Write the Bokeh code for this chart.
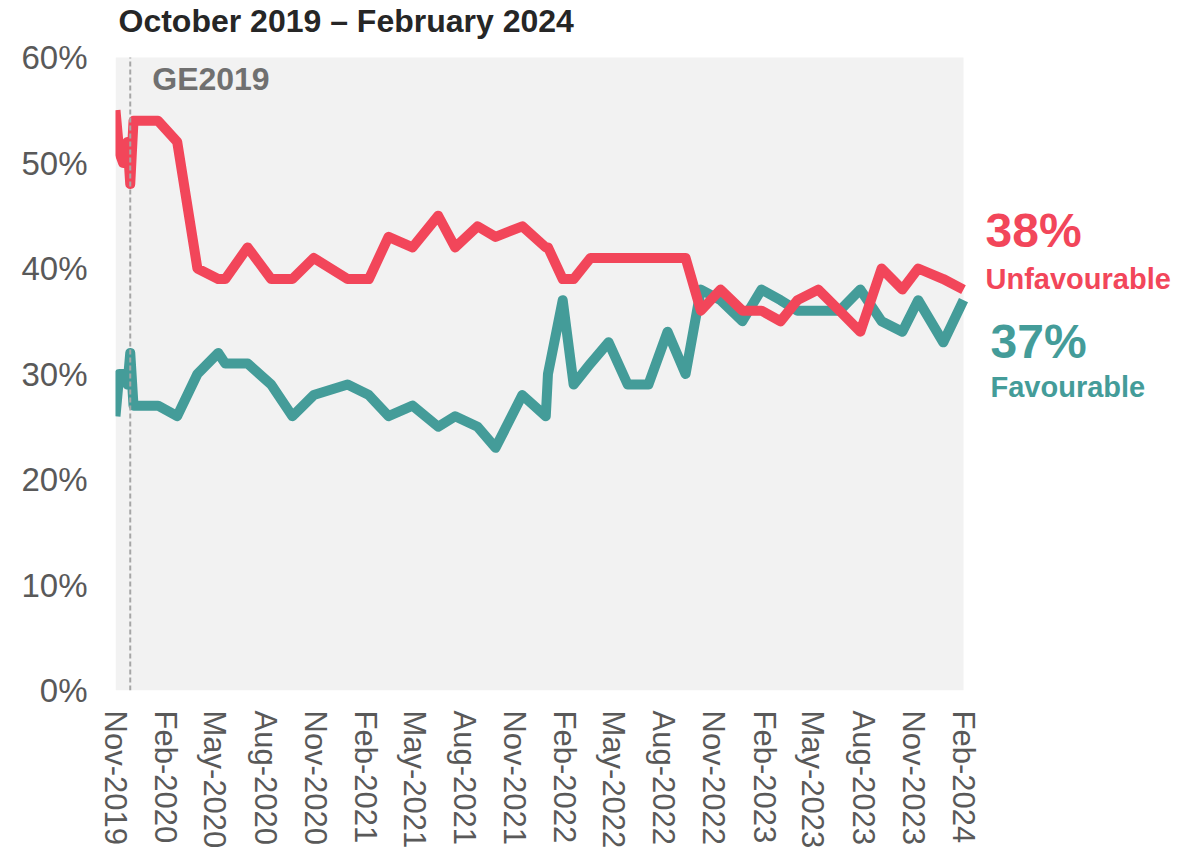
import pandas as pd
from bokeh.plotting import figure
from bokeh.models import Label, FixedTicker, DatetimeTickFormatter, Range1d, BoxAnnotation
from bokeh.embed import file_html
from bokeh.resources import INLINE

# ---- data ----
dates = ["2019-11-01", "2019-11-08", "2019-11-15", "2019-11-23", "2019-11-28", "2019-12-04",
         "2020-01-18", "2020-02-22", "2020-03-30", "2020-05-07", "2020-05-20", "2020-06-30",
         "2020-08-12", "2020-09-20", "2020-10-29", "2020-12-30", "2021-02-07", "2021-03-15",
         "2021-04-28", "2021-06-14", "2021-07-15", "2021-08-25", "2021-09-27", "2021-11-15",
         "2021-12-28", "2022-01-01", "2022-01-28", "2022-02-17", "2022-03-20", "2022-04-22",
         "2022-05-27", "2022-07-04", "2022-08-08", "2022-09-10", "2022-10-08", "2022-11-13",
         "2022-12-23", "2023-01-27", "2023-03-03", "2023-04-03", "2023-05-11", "2023-06-19",
         "2023-07-27", "2023-09-04", "2023-10-12", "2023-11-10", "2023-12-26", "2024-02-01"]
unfavourable = [55, 51, 50, 52, 48, 54,
                54, 52, 40, 39, 39, 42,
                39, 39, 41, 39, 39, 43,
                42, 45, 42, 44, 43, 44,
                42, 42, 39, 39, 41, 41,
                41, 41, 41, 41, 36, 38,
                36, 36, 35, 37, 38, 36,
                34, 40, 38, 40, 39, 38]
favourable = [26, 30, 30, 29, 32, 27,
              27, 26, 30, 32, 31, 31,
              29, 26, 28, 29, 28, 26,
              27, 25, 26, 25, 23, 28,
              26, 30, 37, 29, 31, 33,
              29, 29, 34, 30, 38, 37,
              35, 38, 37, 36, 36, 36,
              38, 35, 34, 37, 33, 37]
x_tick_dates = ["2019-11-01", "2020-02-01", "2020-05-01", "2020-08-01", "2020-11-01",
                "2021-02-01", "2021-05-01", "2021-08-01", "2021-11-01", "2022-02-01",
                "2022-05-01", "2022-08-01", "2022-11-01", "2023-02-01", "2023-05-01",
                "2023-08-01", "2023-11-01", "2024-02-01"]
y_ticks = [0, 10, 20, 30, 40, 50, 60]
y_tick_labels = ["0%", "10%", "20%", "30%", "40%", "50%", "60%"]
ge_date = "2019-11-28"
title_text = "October 2019 \u2013 February 2024"

RED = "#F2465A"
TEAL = "#449C99"
FONT = "Liberation Sans"

def ms(s):
    return pd.Timestamp(s).value / 1e6

x = [pd.Timestamp(d) for d in dates]
x0 = ms(x_tick_dates[0])
x1 = ms(x_tick_dates[-1])
y_top = y_ticks[-1]

# layout: data area 848 x 633 px, frame extended to hold the annotations
DATA_W, DATA_H = 848, 633
FRAME_W, FRAME_H = 1080, 690
x_end = x0 + (x1 - x0) * FRAME_W / DATA_W
y_end = y_top * FRAME_H / DATA_H

p = figure(frame_width=FRAME_W, frame_height=FRAME_H, x_axis_type="datetime",
           output_backend="svg", toolbar_location=None,
           min_border_left=115, min_border_top=0, min_border_right=0, min_border_bottom=150,
           x_range=Range1d(x0, x_end), y_range=Range1d(0, y_end))
p.outline_line_color = None
p.background_fill_color = "white"
p.border_fill_color = "white"
p.xgrid.visible = False
p.ygrid.visible = False

p.add_layout(BoxAnnotation(left=x0, right=x1, bottom=0, top=y_top,
                           fill_color="#F2F2F2", fill_alpha=1, line_color=None,
                           level="underlay"))

p.line(x, favourable, line_color=TEAL, line_width=10, line_join="round")
p.line(x, unfavourable, line_color=RED, line_width=10, line_join="round")

ge = ms(ge_date)
p.segment(x0=[ge], y0=[0], x1=[ge], y1=[y_top], line_color="#A6A6A6",
          line_dash="5 3", line_width=2)

# axes
p.yaxis.ticker = FixedTicker(ticks=y_ticks)
p.yaxis.major_label_overrides = dict(zip(y_ticks, y_tick_labels))
p.xaxis.ticker = FixedTicker(ticks=[ms(d) for d in x_tick_dates])
fmt = "%b-%Y"
p.xaxis.formatter = DatetimeTickFormatter(microseconds=fmt, milliseconds=fmt, seconds=fmt,
                                          minsec=fmt, minutes=fmt, hourmin=fmt, hours=fmt,
                                          days=fmt, months=fmt, years=fmt)
p.xaxis.major_label_orientation = "vertical"
for ax in (p.xaxis, p.yaxis):
    ax.axis_line_color = None
    ax.major_tick_line_color = None
    ax.minor_tick_line_color = None
    ax.major_label_text_font = FONT
    ax.major_label_text_color = "#595959"
p.yaxis.major_label_text_font_size = "33px"
p.xaxis.major_label_text_font_size = "31px"
p.yaxis.major_label_standoff = 22
p.xaxis.major_label_standoff = 14

# texts
p.add_layout(Label(x=x0, y=y_top, text=title_text, x_offset=3, y_offset=37,
                   text_font=FONT, text_font_style="bold", text_font_size="32px",
                   text_color="#262626", text_baseline="alphabetic"))
p.add_layout(Label(x=ge, y=y_top, text="GE2019", x_offset=22, y_offset=-21,
                   text_font=FONT, text_font_style="bold", text_font_size="32px",
                   text_color="#707070", text_baseline="alphabetic"))

last_u = unfavourable[-1]
last_f = favourable[-1]
p.add_layout(Label(x=x1, y=last_u, text=f"{last_u}%", x_offset=22, y_offset=59,
                   text_font=FONT, text_font_style="bold", text_font_size="48px",
                   text_color=RED, text_baseline="alphabetic"))
p.add_layout(Label(x=x1, y=last_u, text="Unfavourable", x_offset=22, y_offset=11,
                   text_font=FONT, text_font_style="bold", text_font_size="29px",
                   text_color=RED, text_baseline="alphabetic"))
p.add_layout(Label(x=x1, y=last_f, text=f"{last_f}%", x_offset=27, y_offset=-41,
                   text_font=FONT, text_font_style="bold", text_font_size="48px",
                   text_color=TEAL, text_baseline="alphabetic"))
p.add_layout(Label(x=x1, y=last_f, text="Favourable", x_offset=27, y_offset=-87,
                   text_font=FONT, text_font_style="bold", text_font_size="29px",
                   text_color=TEAL, text_baseline="alphabetic"))

open("out.html", "w").write(file_html(p, INLINE))
